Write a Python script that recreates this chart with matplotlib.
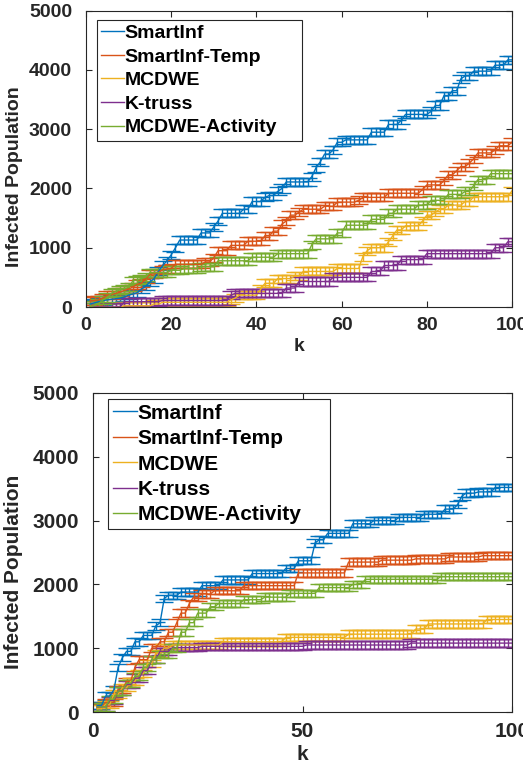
import numpy as np
import matplotlib
matplotlib.use("Agg")
import matplotlib.pyplot as plt
from matplotlib.lines import Line2D

plt.rcParams['font.family'] = ['Liberation Sans', 'DejaVu Sans']
plt.rcParams['font.weight'] = 'bold'

labels = ["SmartInf", "SmartInf-Temp", "MCDWE", "K-truss", "MCDWE-Activity"]
colors = ["#0072BD", "#D95319", "#EDB120", "#7E2F8E", "#77AC30"]
k = np.arange(1, 101)

# values, written as (value, run length) steps
top_smartinf = [(50, 1), (70, 1), (90, 1), (110, 1), (120, 1), (130, 1), (140, 1), (150, 1),
                (170, 1), (200, 1), (220, 1), (240, 1), (300, 1), (350, 1), (420, 1), (480, 1),
                (600, 1), (700, 1), (780, 1), (880, 1), (1000, 1), (1130, 5), (1250, 3),
                (1350, 1), (1450, 1), (1580, 5), (1650, 2), (1780, 3), (1850, 1), (1880, 2),
                (1950, 1), (2000, 1), (2110, 6), (2200, 1), (2350, 1), (2450, 1), (2580, 2),
                (2650, 1), (2780, 2), (2820, 6), (2950, 4), (3080, 3), (3150, 1), (3250, 6),
                (3300, 1), (3400, 2), (3560, 2), (3650, 2), (3850, 1), (3900, 2), (3980, 5),
                (4080, 3), (4170, 2)]
top_temp = [(100, 1), (110, 1), (120, 1), (150, 1), (200, 1), (210, 1), (230, 1), (250, 1),
            (280, 1), (300, 1), (340, 1), (380, 1), (400, 1), (470, 1), (550, 1), (560, 1),
            (580, 1), (630, 1), (640, 1), (650, 1), (720, 7), (760, 2), (830, 1), (950, 3),
            (1040, 4), (1110, 4), (1200, 2), (1280, 2), (1400, 1), (1450, 1), (1550, 2),
            (1600, 1), (1650, 5), (1700, 3), (1770, 5), (1800, 1), (1850, 6), (1920, 8),
            (1980, 1), (2060, 4), (2130, 1), (2230, 2), (2300, 1), (2370, 2), (2430, 1),
            (2500, 1), (2600, 4), (2650, 1), (2720, 3), (2780, 1)]
top_mcdwe = [(0, 8), (20, 7), (50, 2), (80, 16), (120, 1), (150, 1), (200, 5), (300, 1),
             (400, 3), (480, 4), (520, 2), (600, 8), (650, 6), (850, 1), (950, 1), (1000, 4),
             (1100, 1), (1200, 1), (1300, 2), (1370, 4), (1450, 1), (1550, 2), (1600, 1),
             (1650, 2), (1720, 4), (1780, 2), (1860, 9), (1960, 1)]
top_ktruss = [(0, 8), (90, 9), (110, 16), (200, 1), (230, 12), (320, 3), (430, 8), (500, 9),
              (600, 3), (700, 4), (800, 6), (900, 16), (1000, 3), (1100, 2)]
top_activity = [(0, 1), (30, 1), (60, 1), (120, 1), (160, 1), (230, 1), (260, 1), (290, 1),
                (310, 1), (330, 1), (440, 1), (460, 1), (480, 1), (500, 1), (580, 5), (620, 3),
                (650, 4), (680, 4), (780, 8), (840, 6), (900, 8), (1050, 1), (1150, 5),
                (1250, 2), (1380, 6), (1480, 4), (1580, 2), (1650, 5), (1720, 3), (1800, 4),
                (1900, 4), (1950, 2), (2050, 1), (2150, 3), (2250, 6)]

bot_smartinf = [(100, 2), (250, 2), (350, 1), (700, 1), (850, 1), (950, 2), (1100, 2),
                (1200, 3), (1350, 1), (1400, 1), (1780, 1), (1830, 3), (1880, 5), (1980, 5),
                (2070, 7), (2170, 8), (2250, 3), (2370, 4), (2650, 1), (2700, 2), (2800, 6),
                (2950, 5), (3000, 6), (3050, 6), (3100, 5), (3180, 3), (3250, 1), (3380, 1),
                (3430, 3), (3450, 4), (3520, 5)]
bot_temp = [(60, 2), (150, 3), (350, 2), (480, 2), (700, 1), (820, 3), (1000, 2), (1100, 2),
            (1250, 2), (1400, 1), (1550, 2), (1700, 1), (1800, 2), (1850, 3), (1900, 7),
            (1980, 13), (2180, 12), (2350, 8), (2380, 8), (2400, 8), (2430, 8), (2450, 8)]
bot_mcdwe = [(50, 2), (120, 2), (280, 2), (380, 2), (480, 2), (600, 2), (760, 2), (920, 2),
             (1000, 2), (1050, 12), (1100, 15), (1170, 15), (1220, 16), (1300, 3),
             (1380, 14), (1450, 7)]
bot_ktruss = [(80, 3), (180, 2), (330, 2), (430, 2), (530, 2), (650, 2), (820, 2), (950, 3),
              (1010, 7), (1030, 25), (1050, 25), (1080, 25)]
bot_activity = [(80, 3), (200, 2), (330, 2), (450, 2), (560, 2), (700, 2), (820, 2), (900, 3),
                (1000, 2), (1250, 2), (1400, 2), (1550, 3), (1650, 2), (1700, 6), (1760, 5),
                (1800, 6), (1860, 7), (1950, 8), (2000, 3), (2080, 18), (2120, 18)]

top_err = [68, 68, 68, 68, 68]
bot_err = [58, 58, 58, 58, 58]


def steps(pairs):
    vals = np.repeat([p[0] for p in pairs], [p[1] for p in pairs])
    assert len(vals) == 100, len(vals)
    return vals


def draw_panel(ax, series, errs, xticks, fs, ylab_x, legend_box, fig):
    for vals, err, col in zip(series, errs, colors):
        y = steps(vals)
        ax.errorbar(k, y, yerr=err, color=col, linewidth=1.0, elinewidth=1.0,
                    capsize=6.5, capthick=1.0)
    ax.set_xlim(0, 100)
    ax.set_ylim(0, 5000)
    ax.set_xticks(xticks)
    ax.set_yticks([0, 1000, 2000, 3000, 4000, 5000])
    ax.tick_params(direction='in', top=True, right=True, length=4, width=0.8,
                   labelsize=fs, colors='#262626')
    ax.tick_params(axis='x', pad=7)
    ax.tick_params(axis='y', pad=10)
    for lab in ax.get_xticklabels() + ax.get_yticklabels():
        lab.set_fontweight('bold')
    for s in ax.spines.values():
        s.set_color('#262626')
        s.set_linewidth(0.8)
    ax.set_xlabel('k', fontsize=fs, fontweight='bold', color='#262626')
    ax.set_ylabel('Infected Population', fontsize=fs, fontweight='bold', color='#262626')
    ax.xaxis.set_label_coords(0.5, -0.105)
    ax.yaxis.set_label_coords(ylab_x, 0.44)
    handles = [Line2D([0], [0], color=c, linewidth=1.0) for c in colors]
    leg = ax.legend(handles, labels, loc='upper left', bbox_to_anchor=legend_box,
                    bbox_transform=fig.transFigure, mode='expand', fontsize=fs,
                    frameon=True, fancybox=False, framealpha=1, edgecolor='#262626',
                    handlelength=1.15, handletextpad=0.05, labelspacing=0.31,
                    borderpad=0.22, borderaxespad=0)
    leg.get_frame().set_linewidth(0.8)
    for t in leg.get_texts():
        t.set_fontweight('bold')


fig = plt.figure(figsize=(5.23, 7.67), dpi=100)
ax1 = fig.add_axes([86 / 523, 1 - 307 / 767, 426 / 523, 296.3 / 767])
ax2 = fig.add_axes([93 / 523, 1 - 712 / 767, 419 / 523, 319 / 767])

draw_panel(ax1, [top_smartinf, top_temp, top_mcdwe, top_ktruss, top_activity], top_err,
           [0, 20, 40, 60, 80, 100], 14, -0.148,
           (97 / 523, 1 - 138 / 767, 205 / 523, 118 / 767), fig)
draw_panel(ax2, [bot_smartinf, bot_temp, bot_mcdwe, bot_ktruss, bot_activity], bot_err,
           [0, 50, 100], 15, -0.167,
           (108 / 523, 1 - 527 / 767, 222 / 523, 128 / 767), fig)

fig.savefig("out.png", dpi=100)
